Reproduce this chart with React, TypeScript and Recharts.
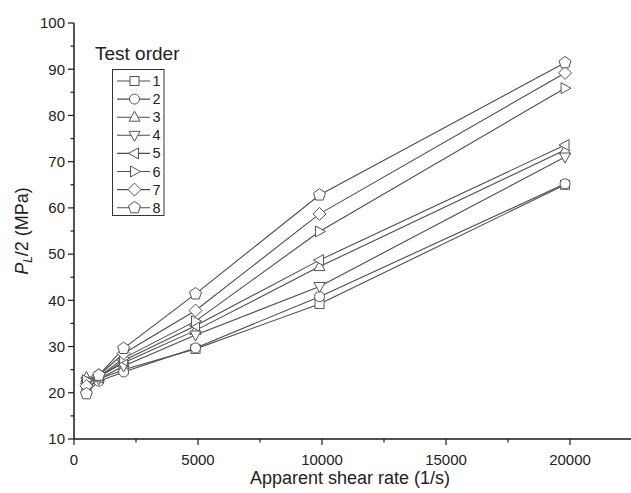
import React from "react";
import { LineChart, Line, XAxis, YAxis, Legend } from "recharts";

// ─── Data ─────────────────────────────────────────────────────────────────────

const shearRates = [500, 1000, 2000, 4900, 9900, 19800];

const order1 = [21.0, 23.0, 25.0, 29.5, 39.2, 65.0];
const order2 = [20.0, 22.5, 24.5, 29.7, 40.8, 65.2];
const order3 = [23.3, 23.5, 26.5, 33.5, 47.3, 72.5];
const order4 = [22.5, 23.0, 25.8, 32.5, 43.0, 71.0];
const order5 = [22.0, 23.3, 27.0, 34.5, 48.7, 73.6];
const order6 = [22.7, 23.5, 27.5, 35.5, 54.9, 85.9];
const order7 = [21.5, 23.8, 28.5, 37.8, 58.7, 89.2];
const order8 = [19.8, 23.8, 29.6, 41.4, 62.8, 91.4];

const seriesNames = ["1", "2", "3", "4", "5", "6", "7", "8"];
const seriesValues = [order1, order2, order3, order4, order5, order6, order7, order8];
const shapes = ["square", "circle", "up", "down", "left", "right", "diamond", "pentagon"];

const xTicks = [0, 2500, 5000, 7500, 10000, 12500, 15000, 17500, 20000, 22500];
const yTicks = [10, 15, 20, 25, 30, 35, 40, 45, 50, 55, 60, 65, 70, 75, 80, 85, 90, 95, 100];

const rows = shearRates.map((x, i) => {
    const row: Record<string, number> = { x };
    seriesNames.forEach((n, s) => (row["s" + n] = seriesValues[s][i]));
    return row;
});

// ─── Styles ───────────────────────────────────────────────────────────────────

const FONT = "'Liberation Sans', Arial, sans-serif";
const AXIS = "#1a1a1a";
const LINE = "#4d4d4d";
const MARK = "#555";

// ─── Markers ──────────────────────────────────────────────────────────────────

function Marker({ shape, cx, cy }: { shape: string; cx: number; cy: number }) {
    const p = { fill: "#fff", stroke: MARK, strokeWidth: 1 };
    const pts = (a: number[][]) => a.map(([dx, dy]) => `${cx + dx},${cy + dy}`).join(" ");
    switch (shape) {
        case "square":
            return <rect x={cx - 4.5} y={cy - 4.5} width={9} height={9} {...p} />;
        case "circle":
            return <circle cx={cx} cy={cy} r={5} {...p} />;
        case "up":
            return <polygon points={pts([[0, -6], [5.5, 4], [-5.5, 4]])} {...p} />;
        case "down":
            return <polygon points={pts([[0, 6], [5.5, -4], [-5.5, -4]])} {...p} />;
        case "left":
            return <polygon points={pts([[-6, 0], [4, -5.5], [4, 5.5]])} {...p} />;
        case "right":
            return <polygon points={pts([[6, 0], [-4, -5.5], [-4, 5.5]])} {...p} />;
        case "diamond":
            return <polygon points={pts([[0, -6.5], [6.5, 0], [0, 6.5], [-6.5, 0]])} {...p} />;
        default: {
            const r = 6.3;
            const a = [0, 1, 2, 3, 4].map((k) => {
                const t = -Math.PI / 2 + (k * 2 * Math.PI) / 5;
                return [r * Math.cos(t), r * Math.sin(t)];
            });
            return <polygon points={pts(a)} {...p} />;
        }
    }
}

// ─── Axis ticks ───────────────────────────────────────────────────────────────

const BottomTick = ({ x, y, payload }: any) => {
    const major = payload.value % 5000 === 0;
    return (
        <g>
            <line x1={x} y1={y} x2={x} y2={y + (major ? 6 : 3.5)} stroke={AXIS} strokeWidth={1.2} />
            {major && payload.value <= 20000 && (
                <text x={x} y={y + 26} textAnchor="middle" fontSize={15} fill="#222" fontFamily={FONT}>
                    {payload.value}
                </text>
            )}
        </g>
    );
};

const TopTick = ({ x, y, payload }: any) => {
    const major = payload.value % 5000 === 0;
    return <line x1={x} y1={y} x2={x} y2={y + (major ? 7 : 3.5)} stroke={AXIS} strokeWidth={1.2} />;
};

const LeftTick = ({ x, y, payload }: any) => {
    const major = payload.value % 10 === 0;
    return (
        <g>
            <line x1={x} y1={y} x2={x - (major ? 6 : 3.5)} y2={y} stroke={AXIS} strokeWidth={1.2} />
            {major && (
                <text x={x - 9} y={y + 5.3} textAnchor="end" fontSize={15} fill="#222" fontFamily={FONT}>
                    {payload.value}
                </text>
            )}
        </g>
    );
};

const RightTick = ({ x, y, payload }: any) => {
    const major = payload.value % 10 === 0;
    return <line x1={x} y1={y} x2={x - (major ? 7 : 3.5)} y2={y} stroke={AXIS} strokeWidth={1.2} />;
};

// ─── Titles & legend ──────────────────────────────────────────────────────────

const XTitle = ({ viewBox }: any) => (
    <text
        x={viewBox.x + viewBox.width / 2 - 3}
        y={484}
        textAnchor="middle"
        fontSize={18}
        fill="#222"
        fontFamily={FONT}
    >
        Apparent shear rate (1/s)
    </text>
);

const YTitle = ({ viewBox }: any) => {
    const cx = 28;
    const cy = viewBox.y + viewBox.height / 2;
    return (
        <text
            x={cx}
            y={cy}
            transform={`rotate(-90 ${cx} ${cy})`}
            textAnchor="middle"
            fontSize={18}
            fill="#222"
            fontFamily={FONT}
        >
            <tspan fontStyle="italic">P</tspan>
            <tspan fontStyle="italic" fontSize={12} dy={4}>L</tspan>
            <tspan dy={-4}>/2 (MPa)</tspan>
        </text>
    );
};

const LegendBox = () => (
    <svg width={110} height={200} style={{ fontFamily: FONT }}>
        <text x={5} y={30} fontSize={19} fill="#222">Test order</text>
        <rect x={22.5} y={39.5} width={51.5} height={146} fill="#fff" stroke="#333" strokeWidth={1} />
        {seriesNames.map((n, i) => {
            const cy = 51 + i * 18.1;
            return (
                <g key={n}>
                    <line x1={27} y1={cy} x2={60} y2={cy} stroke={LINE} strokeWidth={1.1} />
                    <Marker shape={shapes[i]} cx={44.5} cy={cy} />
                    <text x={62.5} y={cy + 5} fontSize={14.5} fill="#222">{n}</text>
                </g>
            );
        })}
    </svg>
);

// ─── Chart ────────────────────────────────────────────────────────────────────

export default function App() {
    return (
        <div style={{ position: "absolute", left: 0, top: 0, width: 631, height: 493, overflow: "hidden", background: "#fff" }}>
            <LineChart width={633} height={493} data={rows} margin={{ top: 23, right: 1, left: 0, bottom: 0 }}>
                <XAxis
                    dataKey="x"
                    type="number"
                    domain={[0, 22500]}
                    ticks={xTicks}
                    allowDataOverflow
                    height={54}
                    tickSize={0}
                    tickMargin={0}
                    tickLine={false}
                    tick={BottomTick}
                    axisLine={{ stroke: AXIS, strokeWidth: 1.5 }}
                    interval={0}
                    label={XTitle}
                />
                <XAxis
                    xAxisId="top"
                    orientation="top"
                    type="number"
                    domain={[0, 22500]}
                    ticks={xTicks}
                    allowDataOverflow
                    height={0}
                    tickSize={0}
                    tickMargin={0}
                    tickLine={false}
                    tick={TopTick}
                    axisLine={{ stroke: AXIS, strokeWidth: 1.5 }}
                    interval={0}
                />
                <YAxis
                    type="number"
                    domain={[10, 100]}
                    ticks={yTicks}
                    allowDataOverflow
                    width={74}
                    tickSize={0}
                    tickMargin={0}
                    tickLine={false}
                    tick={LeftTick}
                    axisLine={{ stroke: AXIS, strokeWidth: 1.5 }}
                    interval={0}
                    label={YTitle}
                />
                <YAxis
                    yAxisId="right"
                    orientation="right"
                    type="number"
                    domain={[10, 100]}
                    ticks={yTicks}
                    allowDataOverflow
                    width={0}
                    tickSize={0}
                    tickMargin={0}
                    tickLine={false}
                    tick={RightTick}
                    axisLine={{ stroke: AXIS, strokeWidth: 1.5 }}
                    interval={0}
                />
                <Legend
                    layout="horizontal"
                    verticalAlign="middle"
                    align="center"
                    wrapperStyle={{ left: 90, top: 30, right: "auto", bottom: "auto", width: 110, height: 200 }}
                    content={LegendBox}
                />
                {seriesNames.map((n, i) => (
                    <Line
                        key={n}
                        name={n}
                        dataKey={"s" + n}
                        stroke={LINE}
                        strokeWidth={1.1}
                        isAnimationActive={false}
                        dot={(p: any) => <Marker key={`${n}-${p.index}`} shape={shapes[i]} cx={p.cx} cy={p.cy} />}
                        activeDot={false}
                    />
                ))}
            </LineChart>
        </div>
    );
}
